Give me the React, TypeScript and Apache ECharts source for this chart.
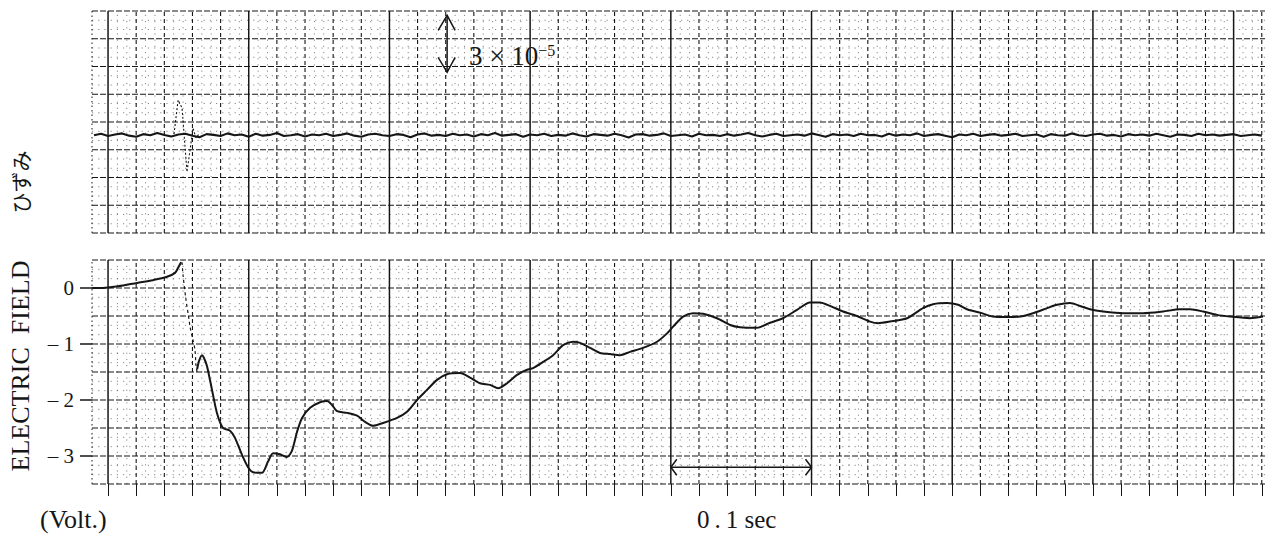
import React, { useEffect, useRef } from "react";
import * as echarts from "echarts";

// ---------- axes ----------
const T_MIN = -0.0114; // seconds at left edge of the paper
const T_MAX = 0.8223; // seconds at right edge
// vertical chart-paper lines (s); multiples of 0.1 are solid
const GRID_T = [
  0, 0.02, 0.04, 0.06, 0.08, 0.1, 0.12, 0.14, 0.16, 0.18, 0.2, 0.22, 0.24, 0.26,
  0.28, 0.3, 0.32, 0.34, 0.36, 0.38, 0.4, 0.42, 0.44, 0.46, 0.48, 0.5, 0.52, 0.54,
  0.56, 0.58, 0.6, 0.62, 0.64, 0.66, 0.68, 0.7, 0.72, 0.74, 0.76, 0.78, 0.8, 0.82,
];
// electric field panel (Volt)
const FIELD_MIN = -3.5;
const FIELD_MAX = 0.5;
const FIELD_GRID = [0.5, 0, -0.5, -1, -1.5, -2, -2.5, -3, -3.5];
const FIELD_TICKS = [0, -1, -2, -3];
// strain panel (x 10^-5), one division of the paper
const DIV = 1.4625;
const STRAIN_GRID_DIV = [-4, -3, -2, -1, 0, 1, 2, 3, 4];

// ---------- electric field trace ----------
const PRE_T = [-0.0114, -0.0036, 0.0071, 0.0206, 0.032, 0.0419, 0.0476, 0.0498, 0.0519];
const PRE_V = [0.0, 0.0, 0.03, 0.09, 0.14, 0.2, 0.27, 0.36, 0.46];

const JUMP_T = [0.0526, 0.0533, 0.0554, 0.0576, 0.0583, 0.0604, 0.0618, 0.0625, 0.0633];
const JUMP_V = [0.46, 0.23, -0.21, -0.57, -0.7, -0.93, -1.11, -1.38, -1.5];

const POST_T = [
  0.0633, 0.0647, 0.0668, 0.0682, 0.0704, 0.0739, 0.0775, 0.0817, 0.0867, 0.0903,
  0.0952, 0.0995, 0.1031, 0.1094, 0.1137, 0.1173, 0.1222, 0.1272, 0.1308, 0.1343,
  0.1379, 0.1436, 0.1507, 0.1557, 0.1592, 0.1628, 0.1699, 0.177, 0.1827, 0.1883,
  0.1955, 0.2054, 0.2125, 0.2196, 0.2267, 0.2338, 0.2409, 0.2502, 0.2573, 0.2644,
  0.2715, 0.2772, 0.2836, 0.2907, 0.2978, 0.3021, 0.3092, 0.3163, 0.3234, 0.3305,
  0.3355, 0.3426, 0.3497, 0.3568, 0.3639, 0.371, 0.3802, 0.3902, 0.3973, 0.4016,
  0.4087, 0.4158, 0.4229, 0.4328, 0.4421, 0.4492, 0.4613, 0.4705, 0.4797, 0.4897,
  0.4989, 0.506, 0.5131, 0.5224, 0.5323, 0.5416, 0.5473, 0.5558, 0.5679, 0.5792,
  0.5864, 0.5963, 0.6042, 0.6105, 0.6198, 0.629, 0.639, 0.6482, 0.6574, 0.6674,
  0.6745, 0.6837, 0.6908, 0.6979, 0.7072, 0.7214, 0.7356, 0.7498, 0.7619, 0.769,
  0.7783, 0.7882, 0.7974, 0.8116, 0.8209,
];
const POST_V = [
  -1.45, -1.3, -1.2, -1.25, -1.4, -1.82, -2.24, -2.5, -2.55, -2.68,
  -2.98, -3.2, -3.29, -3.3, -3.1, -2.95, -2.97, -3.02, -2.9, -2.57,
  -2.32, -2.14, -2.04, -2.02, -2.09, -2.2, -2.23, -2.28, -2.39, -2.46,
  -2.41, -2.32, -2.21, -2.0, -1.82, -1.64, -1.54, -1.52, -1.6, -1.7,
  -1.73, -1.79, -1.7, -1.55, -1.46, -1.43, -1.32, -1.2, -1.02, -0.96,
  -0.98, -1.07, -1.16, -1.18, -1.2, -1.14, -1.07, -0.96, -0.81, -0.69,
  -0.51, -0.45, -0.46, -0.54, -0.66, -0.7, -0.71, -0.62, -0.54, -0.39,
  -0.26, -0.26, -0.32, -0.42, -0.5, -0.6, -0.63, -0.6, -0.54, -0.36,
  -0.29, -0.27, -0.3, -0.38, -0.44, -0.51, -0.52, -0.51, -0.45, -0.36,
  -0.3, -0.27, -0.32, -0.38, -0.42, -0.45, -0.45, -0.42, -0.38, -0.38,
  -0.42, -0.48, -0.51, -0.54, -0.51,
];

// ---------- strain trace (x 10^-5), sampled every 5 ms from -0.01 s ----------
const STRAIN_T0 = -0.01;
const STRAIN_DT = 0.005;
const STRAIN = [
  -0.70, -0.62, -0.74, -0.66, -0.60, -0.72, -0.78, -0.64, -0.70, -0.58,
  -0.68, -0.76, -0.66, -0.62, -0.72, -0.80, -0.64, -0.68, -0.74, -0.60,
  -0.70, -0.66, -0.78, -0.62, -0.72, -0.68, -0.58, -0.74, -0.70, -0.64,
  -0.76, -0.66, -0.70, -0.62, -0.74, -0.68, -0.60, -0.72, -0.78, -0.66,
  -0.62, -0.70, -0.74, -0.64, -0.68, -0.80, -0.66, -0.60, -0.72, -0.68,
  -0.74, -0.62, -0.70, -0.66, -0.76, -0.64, -0.70, -0.58, -0.72, -0.68,
  -0.64, -0.78, -0.66, -0.70, -0.62, -0.74, -0.68, -0.72, -0.60, -0.70,
  -0.76, -0.64, -0.68, -0.72, -0.62, -0.70, -0.82, -0.66, -0.64, -0.72,
  -0.68, -0.60, -0.74, -0.70, -0.66, -0.76, -0.62, -0.70, -0.68, -0.74,
  -0.64, -0.72, -0.66, -0.58, -0.70, -0.76, -0.68, -0.62, -0.74, -0.70,
  -0.66, -0.72, -0.60, -0.68, -0.78, -0.64, -0.70, -0.66, -0.74, -0.62,
  -0.70, -0.68, -0.76, -0.62, -0.72, -0.66, -0.70, -0.60, -0.74, -0.68,
  -0.64, -0.72, -0.80, -0.66, -0.70, -0.62, -0.74, -0.68, -0.64, -0.72,
  -0.68, -0.62, -0.74, -0.70, -0.66, -0.78, -0.64, -0.70, -0.72, -0.60,
  -0.70, -0.74, -0.66, -0.62, -0.72, -0.68, -0.76, -0.64, -0.70, -0.66,
  -0.72, -0.62, -0.70, -0.78, -0.66, -0.68, -0.74, -0.62, -0.70, -0.66,
  -0.72, -0.68, -0.64, -0.74, -0.70, -0.66, -0.72,
];
// fast pen excursion (drawn faint/dashed on the record)
const SPIKE_T = [0.0469, 0.0498, 0.0526, 0.0561, 0.0583, 0.0604, 0.0625, 0.0647];
const SPIKE_S = [-0.63, 1.16, 0.74, -2.63, -1.47, -0.32, -0.84, -0.63];

// calibration marks
const CAL_T = 0.241;
const CAL_LOW = 2.62;
const CAL_HIGH = 5.62; // 3 x 10^-5
const SCALE_T0 = 0.4;
const SCALE_T1 = 0.5; // 0.1 sec
const SCALE_V = -3.2;

const SERIF = '"Liberation Serif", "DejaVu Serif", serif';
const INK = "#161616";

function thirds(vals: number[]): number[] {
  const out: number[] = [];
  for (let i = 0; i < vals.length - 1; i++) {
    const a = vals[i];
    const b = vals[i + 1];
    out.push(a + (b - a) / 3, a + ((b - a) * 2) / 3);
  }
  return out;
}

function vLines(grid: number, vals: number[], lo: number, hi: number, styleFor: (v: number) => any) {
  return {
    type: "custom",
    xAxisIndex: grid,
    yAxisIndex: grid,
    silent: true,
    z: 1,
    data: vals.map((v) => [v, lo]),
    encode: { x: 0, y: 1 },
    renderItem: (params: any, api: any) => {
      const v = api.value(0);
      const p0 = api.coord([v, lo]);
      const p1 = api.coord([v, hi]);
      return {
        type: "line",
        shape: { x1: p0[0], y1: p0[1], x2: p1[0], y2: p1[1] },
        style: styleFor(v),
      };
    },
  };
}

function hLines(grid: number, vals: number[], styleFor: (v: number) => any) {
  return {
    type: "custom",
    xAxisIndex: grid,
    yAxisIndex: grid,
    silent: true,
    z: 1,
    data: vals.map((v) => [T_MIN, v]),
    encode: { x: 0, y: 1 },
    renderItem: (params: any, api: any) => {
      const v = api.value(1);
      const p0 = api.coord([T_MIN, v]);
      const p1 = api.coord([T_MAX, v]);
      return {
        type: "line",
        shape: { x1: p0[0], y1: p0[1], x2: p1[0], y2: p1[1] },
        style: styleFor(v),
      };
    },
  };
}

const isMajor = (t: number) => Math.abs(t * 10 - Math.round(t * 10)) < 1e-6;
const vStyle = (t: number) =>
  isMajor(t)
    ? { stroke: INK, lineWidth: 1.5 }
    : { stroke: INK, lineWidth: 1.1, lineDash: [4, 3] };
const hStyle = () => ({ stroke: INK, lineWidth: 1.1, lineDash: [6, 2] });
const dotStyle = () => ({ stroke: "#444", lineWidth: 0.9, lineDash: [1.2, 5], opacity: 0.7 });
const borderStyle = () => ({ stroke: INK, lineWidth: 1, lineDash: [1.5, 3] });

export default function App() {
  const ref = useRef<HTMLDivElement>(null);

  useEffect(() => {
    if (!ref.current) return;
    const chart = echarts.init(ref.current, undefined, { renderer: "svg" });

    const strainMin = STRAIN_GRID_DIV[0] * DIV;
    const strainMax = STRAIN_GRID_DIV[STRAIN_GRID_DIV.length - 1] * DIV;
    const strainGrid = STRAIN_GRID_DIV.map((d) => d * DIV);
    const zip = (a: number[], b: number[]) => a.map((v, i) => [v, b[i]]);
    const strainData = STRAIN.map((s, i) => [STRAIN_T0 + i * STRAIN_DT, s]);

    const lineBase = {
      type: "line",
      showSymbol: false,
      silent: true,
      z: 5,
    };

    const option: any = {
      animation: false,
      backgroundColor: "#ffffff",
      grid: [
        { left: 92, right: 2, top: 11, height: 222 },
        { left: 92, right: 2, top: 260, height: 224 },
      ],
      xAxis: [
        {
          type: "value",
          gridIndex: 0,
          min: T_MIN,
          max: T_MAX,
          axisLine: { show: false, onZero: false },
          axisTick: { show: false },
          axisLabel: { show: false },
          splitLine: { show: false },
        },
        {
          type: "value",
          gridIndex: 1,
          min: T_MIN,
          max: T_MAX,
          position: "bottom",
          axisLine: { show: false, onZero: false },
          axisTick: {
            show: true,
            customValues: GRID_T,
            length: 12,
            lineStyle: { color: INK, width: 1 },
          },
          axisLabel: { show: false },
          splitLine: { show: false },
        },
      ],
      yAxis: [
        {
          type: "value",
          gridIndex: 0,
          min: strainMin,
          max: strainMax,
          axisLine: { show: false, onZero: false },
          axisTick: { show: false },
          axisLabel: { show: false },
          splitLine: { show: false },
        },
        {
          type: "value",
          gridIndex: 1,
          min: FIELD_MIN,
          max: FIELD_MAX,
          interval: 0.5,
          axisLine: { show: false, onZero: false },
          axisTick: {
            show: true,
            customValues: FIELD_TICKS,
            length: 12,
            lineStyle: { color: INK, width: 1.5 },
          },
          axisLabel: {
            customValues: FIELD_TICKS,
            margin: 18,
            fontFamily: SERIF,
            fontSize: 21,
            color: INK,
            formatter: (v: number) =>
              Math.abs(v - Math.round(v)) > 1e-6 ? "" : v === 0 ? "0" : "– " + Math.abs(v),
          },
          splitLine: { show: false },
        },
      ],
      graphic: [
        {
          type: "text",
          x: 20,
          y: 182,
          rotation: Math.PI / 2,
          silent: true,
          style: {
            text: "ひずみ",
            font: '21px "Noto Sans CJK JP"',
            fill: INK,
            align: "center",
            verticalAlign: "middle",
            textAlign: "center",
            textVerticalAlign: "middle",
          },
        },
        {
          type: "text",
          x: 20,
          y: 366,
          rotation: Math.PI / 2,
          silent: true,
          style: {
            text: "ELECTRIC  FIELD",
            font: "26px " + SERIF,
            fill: INK,
            align: "center",
            verticalAlign: "middle",
            textAlign: "center",
            textVerticalAlign: "middle",
          },
        },
        {
          type: "text",
          x: 40,
          y: 519,
          silent: true,
          style: {
            text: "(Volt.)",
            font: "26px " + SERIF,
            fill: INK,
            align: "left",
            verticalAlign: "middle",
            textAlign: "left",
            textVerticalAlign: "middle",
          },
        },
        {
          type: "text",
          x: 697,
          y: 519,
          silent: true,
          style: {
            text: "0\u2009.\u20091 sec",
            font: "25px " + SERIF,
            fill: INK,
            align: "left",
            verticalAlign: "middle",
            textAlign: "left",
            textVerticalAlign: "middle",
          },
        },
        {
          type: "text",
          x: 469,
          y: 56,
          silent: true,
          style: {
            text: "{a|3 × 10}{b|−5}",
            fill: INK,
            align: "left",
            verticalAlign: "middle",
            textAlign: "left",
            textVerticalAlign: "middle",
            rich: {
              a: { fontFamily: SERIF, fontSize: 27, fill: INK, color: INK },
              b: { fontFamily: SERIF, fontSize: 16, fill: INK, color: INK, verticalAlign: "top" },
            },
          },
        },
      ],
      series: [
        // ---- strain panel paper ----
        vLines(0, thirds(GRID_T), strainMin, strainMax, dotStyle),
        hLines(0, thirds(strainGrid), dotStyle),
        vLines(0, [T_MIN], strainMin, strainMax, borderStyle),
        vLines(0, GRID_T, strainMin, strainMax, vStyle),
        hLines(0, strainGrid, hStyle),
        // ---- field panel paper ----
        vLines(1, thirds(GRID_T), FIELD_MIN, FIELD_MAX, dotStyle),
        hLines(1, thirds(FIELD_GRID), dotStyle),
        vLines(1, [T_MIN], FIELD_MIN, FIELD_MAX, borderStyle),
        vLines(1, GRID_T, FIELD_MIN, FIELD_MAX, vStyle),
        hLines(1, FIELD_GRID, hStyle),
        // ---- strain trace ----
        {
          ...lineBase,
          xAxisIndex: 0,
          yAxisIndex: 0,
          data: strainData,
          lineStyle: { color: INK, width: 2.1 },
        },
        {
          ...lineBase,
          xAxisIndex: 0,
          yAxisIndex: 0,
          data: zip(SPIKE_T, SPIKE_S),
          lineStyle: { color: INK, width: 1.1, type: [2, 2] },
        },
        // ---- field trace ----
        {
          ...lineBase,
          xAxisIndex: 1,
          yAxisIndex: 1,
          data: zip(PRE_T, PRE_V),
          smooth: 0.3,
          lineStyle: { color: INK, width: 2 },
        },
        {
          ...lineBase,
          xAxisIndex: 1,
          yAxisIndex: 1,
          data: zip(JUMP_T, JUMP_V),
          smooth: 0.3,
          lineStyle: { color: INK, width: 1.2, type: [3, 3] },
        },
        {
          ...lineBase,
          xAxisIndex: 1,
          yAxisIndex: 1,
          data: zip(POST_T, POST_V),
          smooth: 0.25,
          lineStyle: { color: INK, width: 2 },
        },
        // ---- calibration arrow 3 x 10^-5 ----
        {
          type: "custom",
          xAxisIndex: 0,
          yAxisIndex: 0,
          silent: true,
          z: 6,
          data: [[CAL_T, CAL_LOW, CAL_HIGH]],
          encode: { x: 0, y: 1 },
          renderItem: (params: any, api: any) => {
            const p0 = api.coord([api.value(0), api.value(1)]);
            const p1 = api.coord([api.value(0), api.value(2)]);
            const st = { stroke: INK, lineWidth: 1.5, fill: "none" };
            return {
              type: "group",
              children: [
                { type: "line", shape: { x1: p0[0], y1: p0[1], x2: p1[0], y2: p1[1] }, style: st },
                {
                  type: "polyline",
                  shape: { points: [[p1[0] - 9, p1[1] + 15], [p1[0], p1[1]], [p1[0] + 8, p1[1] + 15]] },
                  style: st,
                },
                {
                  type: "polyline",
                  shape: { points: [[p0[0] - 9, p0[1] - 15], [p0[0], p0[1]], [p0[0] + 8, p0[1] - 15]] },
                  style: st,
                },
              ],
            };
          },
        },
        // ---- time scale arrow 0.1 sec ----
        {
          type: "custom",
          xAxisIndex: 1,
          yAxisIndex: 1,
          silent: true,
          z: 6,
          data: [[SCALE_T0, SCALE_V, SCALE_T1]],
          encode: { x: 0, y: 1 },
          renderItem: (params: any, api: any) => {
            const p0 = api.coord([api.value(0), api.value(1)]);
            const p1 = api.coord([api.value(2), api.value(1)]);
            const st = { stroke: INK, lineWidth: 1.5, fill: "none" };
            return {
              type: "group",
              children: [
                { type: "line", shape: { x1: p0[0], y1: p0[1], x2: p1[0], y2: p1[1] }, style: st },
                {
                  type: "polyline",
                  shape: { points: [[p0[0] + 6, p0[1] - 8], [p0[0], p0[1]], [p0[0] + 6, p0[1] + 8]] },
                  style: st,
                },
                {
                  type: "polyline",
                  shape: { points: [[p1[0] - 6, p1[1] - 8], [p1[0], p1[1]], [p1[0] - 6, p1[1] + 8]] },
                  style: st,
                },
              ],
            };
          },
        },
      ],
    };

    chart.setOption(option);
    return () => chart.dispose();
  }, []);

  return (
    <div
      ref={ref}
      style={{ position: "absolute", left: 0, top: 0, width: 1267, height: 534, background: "#fff" }}
    />
  );
}
